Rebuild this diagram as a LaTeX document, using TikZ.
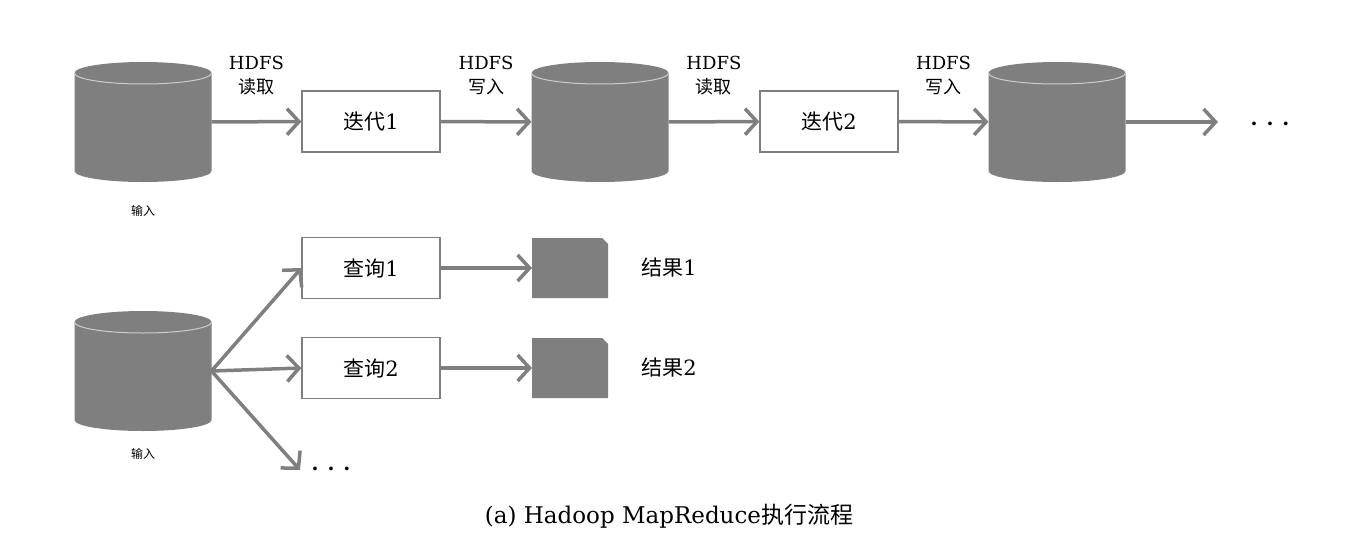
\documentclass[tikz,border=0pt]{standalone}
\usepackage{fontspec}
\setmainfont{DejaVu Serif}
\newfontfamily\zhfont{Noto Sans CJK SC}
\usetikzlibrary{arrows.meta}
\definecolor{c7f7f7f}{RGB}{127,127,127}
\definecolor{cc8c8c8}{RGB}{205,205,205}
\tikzset{flow/.style={draw=c7f7f7f, line width=3.5pt, -{Straight Barb[length=12pt,width=26pt]}},
  disk/.style={rectangle, minimum width=137pt, minimum height=120pt, outer sep=0pt,
    path picture={
      \fill[c7f7f7f] ([yshift=-11pt]path picture bounding box.north west)
        arc[start angle=180, end angle=0, x radius=68.5pt, y radius=11pt]
        -- ([yshift=11pt]path picture bounding box.south east)
        arc[start angle=0, end angle=-180, x radius=68.5pt, y radius=11pt] -- cycle;
      \draw[cc8c8c8, line width=1pt] ([yshift=-11pt]path picture bounding box.north west)
        arc[start angle=180, end angle=360, x radius=68.5pt, y radius=11pt];
    }},
  step box/.style={rectangle, draw=c7f7f7f, line width=1.2pt, fill=white,
    minimum width=138pt, minimum height=61pt},
  result/.style={rectangle, minimum width=76pt, minimum height=60pt, outer sep=0pt,
    path picture={
      \fill[c7f7f7f] (path picture bounding box.north west)
        -- ([xshift=-6pt]path picture bounding box.north east)
        -- ([yshift=-6pt]path picture bounding box.north east)
        -- (path picture bounding box.south east)
        -- (path picture bounding box.south west) -- cycle;
    }}}

\begin{document}
\begin{tikzpicture}[x=1pt,y=-1pt]
\useasboundingbox (0,0) rectangle (1354,538);
\begin{scope}[every node/.style={inner sep=0pt, font=\fontsize{21}{21}\selectfont}]
% top row
\node[disk] (in1) at (143,122) {};
\node[step box] (it1) at (371,121.5) {{\zhfont 迭代}1};
\node[disk] (hd1) at (600,122) {};
\node[step box] (it2) at (829,121.5) {{\zhfont 迭代}2};
\node[disk] (hd2) at (1057,122) {};
\coordinate (end1) at (1218,122);
\node[font=\fontsize{20}{20}\selectfont\bfseries] (dots1) at (1270,124) {.\hspace{9pt}.\hspace{9pt}.};
\node[font=\fontsize{12}{12}\selectfont\zhfont] (lab1) at (143,211) {输入};
% bottom row
\node[disk] (in2) at (143,371) {};
\node[step box] (q1) at (371,268) {{\zhfont 查询}1};
\node[step box] (q2) at (371,368) {{\zhfont 查询}2};
\node[result] (r1) at (570,268) {};
\node[result] (r2) at (570,368) {};
\node (t1) at (669,268) {{\zhfont 结果}1};
\node (t2) at (669,368) {{\zhfont 结果}2};
\coordinate (end2) at (300,470);
\node[font=\fontsize{20}{20}\selectfont\bfseries] (dots2) at (331,469) {.\hspace{9pt}.\hspace{9pt}.};
\node[font=\fontsize{12}{12}\selectfont\zhfont] (lab2) at (143,454) {输入};
\node[font=\fontsize{23}{23}\selectfont] (cap) at (669,516) {(a) Hadoop MapReduce{\zhfont 执行流程}};
\end{scope}

\path[flow] (in1) -- (it1) node[midway, above=22pt, align=center, font=\fontsize{18}{24}\selectfont] {HDFS\\{\zhfont 读取}};
\path[flow] (it1) -- (hd1) node[midway, above=22pt, align=center, font=\fontsize{18}{24}\selectfont] {HDFS\\{\zhfont 写入}};
\path[flow] (hd1) -- (it2) node[midway, above=22pt, align=center, font=\fontsize{18}{24}\selectfont] {HDFS\\{\zhfont 读取}};
\path[flow] (it2) -- (hd2) node[midway, above=22pt, align=center, font=\fontsize{18}{24}\selectfont] {HDFS\\{\zhfont 写入}};
\path[flow] (hd2) -- (end1);
\path[flow] (in2.east) -- (q1.west);
\path[flow] (in2.east) -- (q2.west);
\path[flow] (in2.east) -- (end2);
\path[flow] (q1) -- (r1);
\path[flow] (q2) -- (r2);

\end{tikzpicture}
\end{document}
